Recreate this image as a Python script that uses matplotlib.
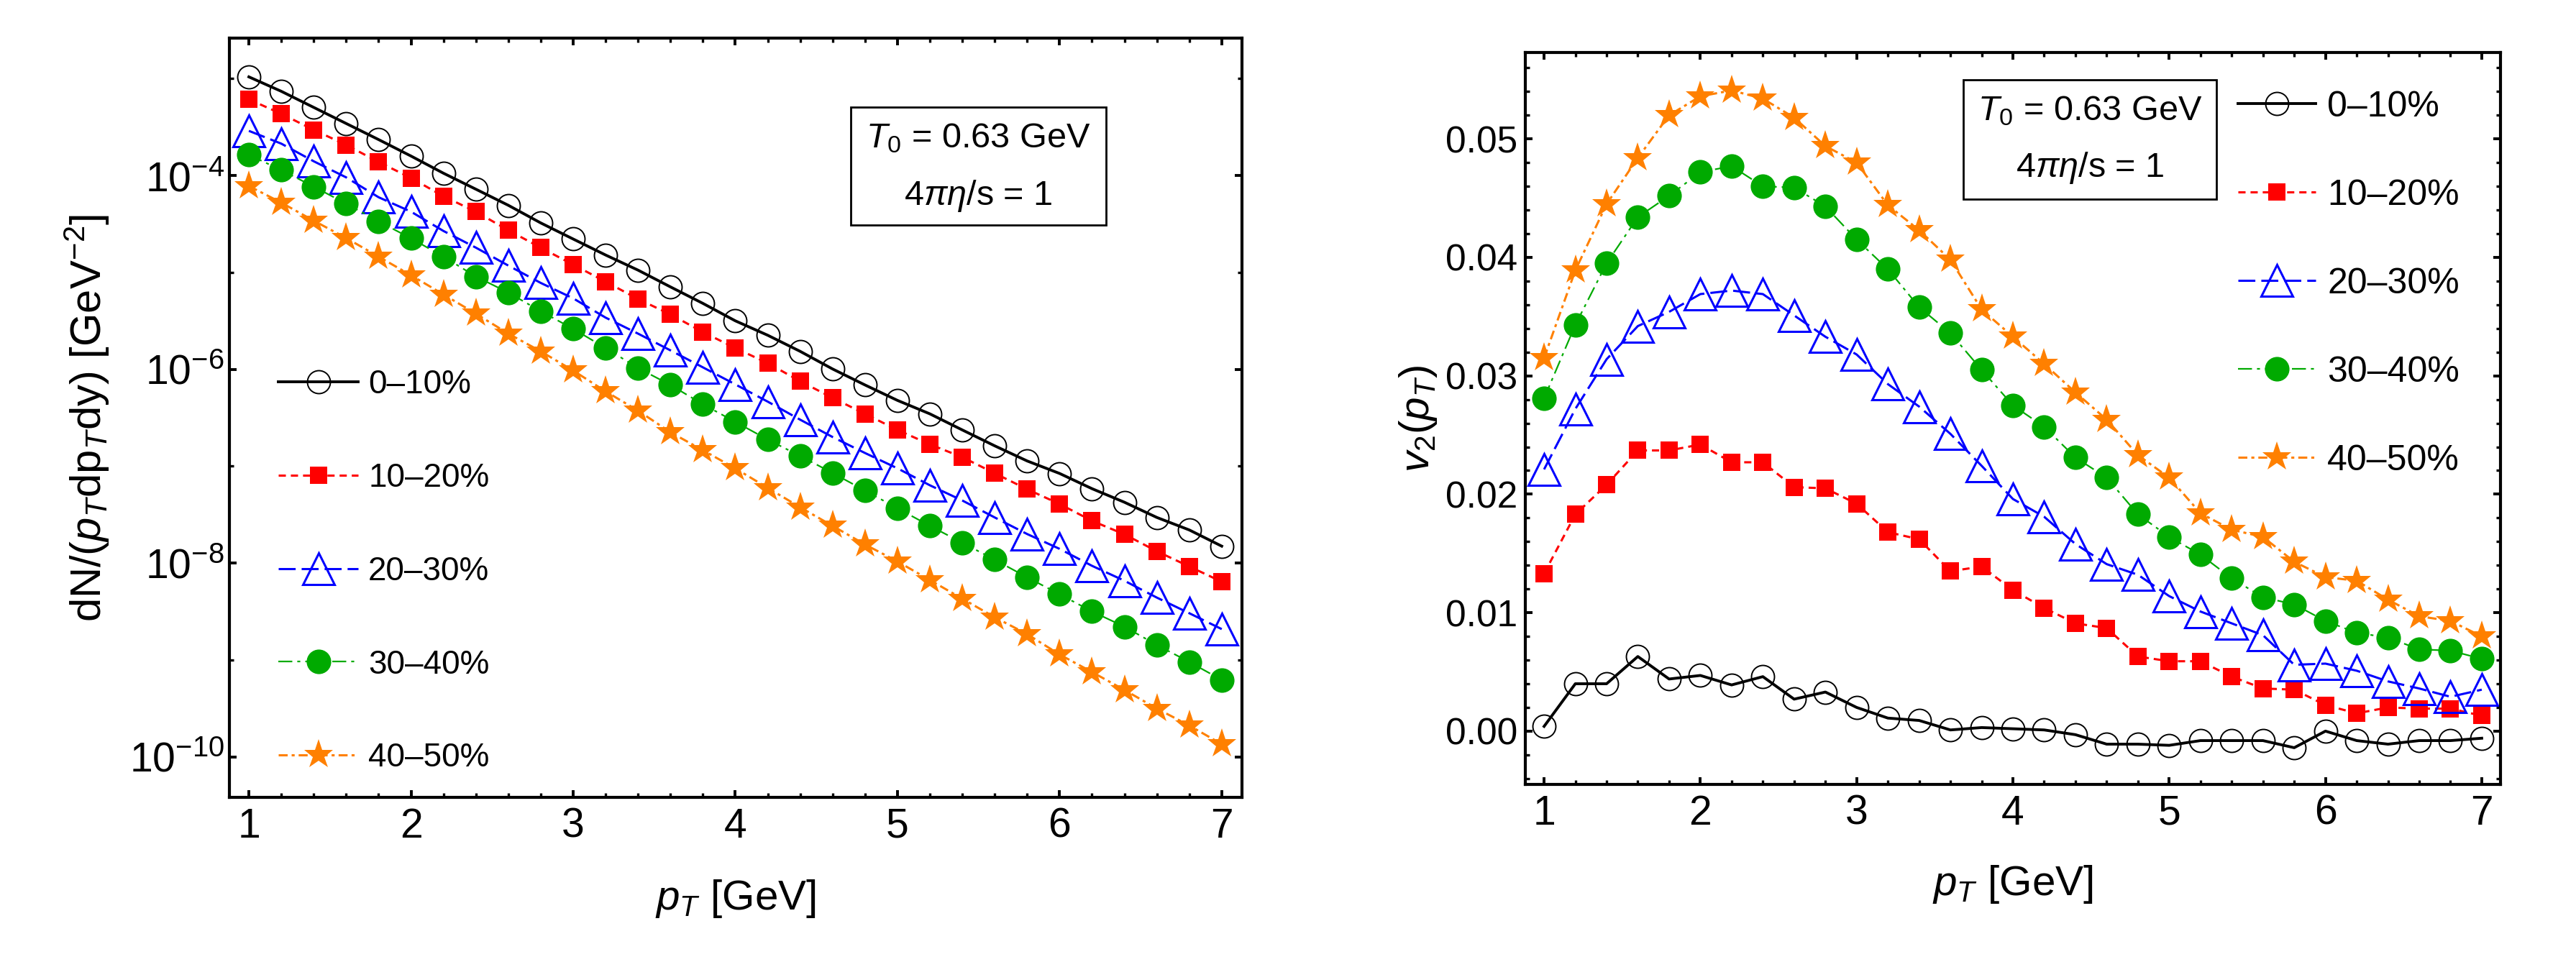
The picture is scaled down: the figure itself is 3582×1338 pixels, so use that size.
import numpy as np
import matplotlib
matplotlib.use('Agg')
import matplotlib.pyplot as plt
from matplotlib.ticker import FixedLocator, NullFormatter, MultipleLocator, FormatStrFormatter
from matplotlib.patches import Rectangle

plt.rcParams['font.family'] = ['Liberation Sans', 'DejaVu Sans']
plt.rcParams['mathtext.fontset'] = 'custom'
plt.rcParams['mathtext.rm'] = 'Liberation Sans'
plt.rcParams['mathtext.it'] = 'Liberation Sans:italic'
plt.rcParams['mathtext.bf'] = 'Liberation Sans:bold'
plt.rcParams['lines.scale_dashes'] = False

# datos
pt = [1.0, 1.2, 1.4, 1.6, 1.8, 2.0, 2.2, 2.4, 2.6, 2.8, 3.0, 3.2, 3.4, 3.6, 3.8, 4.0,
      4.2, 4.4, 4.6, 4.8, 5.0, 5.2, 5.4, 5.6, 5.8, 6.0, 6.2, 6.4, 6.6, 6.8, 7.0]
labels = ['0–10%', '10–20%', '20–30%', '30–40%', '40–50%']

log_0_10 = [-2.983, -3.132, -3.298, -3.464, -3.630, -3.800, -3.977, -4.142, -4.308, -4.490,
            -4.656, -4.821, -4.977, -5.150, -5.320, -5.500, -5.649, -5.815, -5.997, -6.162,
            -6.321, -6.460, -6.626, -6.790, -6.946, -7.075, -7.232, -7.372, -7.529, -7.658, -7.825]
log_10_20 = [-3.215, -3.364, -3.530, -3.685, -3.861, -4.026, -4.215, -4.374, -4.566, -4.745,
             -4.921, -5.096, -5.275, -5.434, -5.616, -5.781, -5.937, -6.123, -6.295, -6.460,
             -6.626, -6.775, -6.907, -7.073, -7.238, -7.390, -7.564, -7.703, -7.878, -8.035, -8.192]
log_20_30 = [-3.540, -3.672, -3.854, -4.020, -4.225, -4.374, -4.573, -4.745, -4.930, -5.109,
             -5.268, -5.467, -5.632, -5.805, -5.980, -6.156, -6.334, -6.520, -6.699, -6.864,
             -7.022, -7.197, -7.354, -7.529, -7.700, -7.853, -8.028, -8.182, -8.356, -8.517, -8.681]
log_30_40 = [-3.788, -3.944, -4.116, -4.291, -4.474, -4.649, -4.838, -5.043, -5.209, -5.401,
             -5.583, -5.781, -5.987, -6.162, -6.361, -6.543, -6.725, -6.895, -7.070, -7.252,
             -7.434, -7.616, -7.790, -7.965, -8.147, -8.321, -8.499, -8.656, -8.845, -9.020, -9.205]
log_40_50 = [-4.109, -4.281, -4.467, -4.646, -4.838, -5.030, -5.228, -5.427, -5.632, -5.815,
             -6.013, -6.228, -6.427, -6.650, -6.835, -7.023, -7.224, -7.424, -7.616, -7.808,
             -7.983, -8.175, -8.367, -8.559, -8.733, -8.943, -9.124, -9.309, -9.501, -9.676, -9.868]

# v2(pT), panel derecho
v2_0_10 = [0.0004, 0.0040, 0.0040, 0.0063, 0.0044, 0.0047, 0.0039, 0.0046, 0.0027, 0.0033,
           0.0020, 0.0011, 0.0009, 0.0001, 0.0003, 0.0002, 0.0001, -0.0003, -0.0011, -0.0011,
           -0.0012, -0.0008, -0.0008, -0.0008, -0.0014, 0.0000, -0.0008, -0.0011, -0.0008, -0.0008, -0.0006]
v2_10_20 = [0.0133, 0.0183, 0.0208, 0.0237, 0.0237, 0.0242, 0.0227, 0.0227, 0.0206, 0.0205,
            0.0192, 0.0168, 0.0162, 0.0135, 0.0139, 0.0119, 0.0104, 0.0091, 0.0087, 0.0063,
            0.0059, 0.0059, 0.0046, 0.0036, 0.0035, 0.0022, 0.0015, 0.0020, 0.0019, 0.0019, 0.0013]
v2_20_30 = [0.0221, 0.0272, 0.0314, 0.0342, 0.0354, 0.0369, 0.0372, 0.0369, 0.0351, 0.0333,
            0.0318, 0.0293, 0.0274, 0.0251, 0.0224, 0.0196, 0.0181, 0.0158, 0.0141, 0.0132,
            0.0114, 0.0101, 0.0091, 0.0081, 0.0056, 0.0057, 0.0051, 0.0042, 0.0036, 0.0029, 0.0035]
v2_30_40 = [0.0281, 0.0343, 0.0395, 0.0434, 0.0452, 0.0472, 0.0477, 0.0460, 0.0459, 0.0443,
            0.0415, 0.0390, 0.0358, 0.0336, 0.0305, 0.0275, 0.0257, 0.0231, 0.0214, 0.0183,
            0.0164, 0.0149, 0.0129, 0.0113, 0.0107, 0.0093, 0.0083, 0.0079, 0.0069, 0.0068, 0.0061]
v2_40_50 = [0.0315, 0.0389, 0.0445, 0.0484, 0.0520, 0.0536, 0.0541, 0.0534, 0.0518, 0.0494,
            0.0480, 0.0444, 0.0423, 0.0398, 0.0356, 0.0333, 0.0310, 0.0286, 0.0263, 0.0233,
            0.0214, 0.0184, 0.0170, 0.0164, 0.0143, 0.0130, 0.0127, 0.0111, 0.0097, 0.0093, 0.0080]

spectra = [log_0_10, log_10_20, log_20_30, log_30_40, log_40_50]
flows = [v2_0_10, v2_10_20, v2_20_30, v2_30_40, v2_40_50]

# estilos de cada centralidad
styles = [
    dict(color='black', ls='-', lw=1.4, marker='o', ms=11.5, mfc='none', mec='black', mew=0.7),
    dict(color='#ff0000', dashes=(3.6, 2.5), lw=1.1, marker='s', ms=8.3, mfc='#ff0000', mec='#ff0000', mew=0),
    dict(color='#0000ff', dashes=(8.5, 3.0), lw=1.1, marker='^', ms=16, mfc='none', mec='#0000ff', mew=1.1),
    dict(color='#00aa00', dashes=(7, 2.5, 1.5, 2.5), lw=0.8, marker='o', ms=12.3, mfc='#00aa00', mec='#00aa00', mew=0),
    dict(color='#ff8000', dashes=(4.5, 2, 1.5, 2), lw=1.1, marker='*', ms=15.5, mfc='#ff8000', mec='#ff8000', mew=0),
]

fig = plt.figure(figsize=(17.91, 6.69), dpi=200)
ax1 = fig.add_axes([0.08906, 0.17115, 0.39308, 0.78924])
ax2 = fig.add_axes([0.59213, 0.18460, 0.37856, 0.76084])

'''Panel izquierdo'''
for lg, st, lab in zip(spectra, styles, labels):
    ax1.plot(pt, 10.0 ** np.array(lg), label=lab, **st)
ax1.set_yscale('log')
ax1.set_xlim(0.88, 7.125)
ax1.set_ylim(10 ** -10.417, 10 ** -2.583)
ax1.yaxis.set_major_locator(FixedLocator([1e-10, 1e-8, 1e-6, 1e-4]))
ax1.yaxis.set_minor_locator(FixedLocator([1e-9, 1e-7, 1e-5, 1e-3]))
ax1.yaxis.set_minor_formatter(NullFormatter())
ax1.set_xlabel(r'$p_T$ [GeV]', fontsize=21, va='center')
ax1.xaxis.set_label_coords(0.5, -0.1335)
ax1.set_ylabel(r'dN/($p_T$dp$_T$dy) [GeV$^{-2}$]', fontsize=21.5, va='center')
ax1.yaxis.set_label_coords(-0.140, 0.5)
ax1.legend(loc='upper left', bbox_to_anchor=(0.048, 0.564), frameon=False, fontsize=16.5,
           handlelength=2.44, handletextpad=0.3, labelspacing=1.87, borderpad=0, borderaxespad=0)
ax1.add_patch(Rectangle((0.6136, 0.754), 0.2522, 0.155, transform=ax1.transAxes,
                        fill=False, lw=1.0, ec='black', zorder=5))
ax1.text(0.7397, 0.868, r'$T_0$ = 0.63 GeV', transform=ax1.transAxes, ha='center', va='center', fontsize=17.5)
ax1.text(0.7397, 0.792, r'4$\pi\eta$/s = 1', transform=ax1.transAxes, ha='center', va='center', fontsize=17.5)

'''Panel derecho'''
for v, st, lab in zip(flows, styles, labels):
    ax2.plot(pt, v, label=lab, **st)
ax2.set_xlim(0.88, 7.12)
ax2.set_ylim(-0.0045, 0.0573)
ax2.yaxis.set_major_locator(MultipleLocator(0.01))
ax2.yaxis.set_minor_locator(MultipleLocator(0.002))
ax2.yaxis.set_major_formatter(FormatStrFormatter('%.2f'))
ax2.set_xlabel(r'$p_T$ [GeV]', fontsize=21, va='center')
ax2.xaxis.set_label_coords(0.5, -0.1365)
ax2.set_ylabel(r'$v_2(p_T)$', fontsize=21, va='center')
ax2.yaxis.set_label_coords(-0.11, 0.5)
ax2.legend(loc='upper left', bbox_to_anchor=(0.731, 0.948), frameon=False, fontsize=18,
           handlelength=2.16, handletextpad=0.32, labelspacing=1.54, borderpad=0, borderaxespad=0)
ax2.add_patch(Rectangle((0.449, 0.80), 0.26, 0.163, transform=ax2.transAxes,
                        fill=False, lw=1.0, ec='black', zorder=5))
ax2.text(0.579, 0.920, r'$T_0$ = 0.63 GeV', transform=ax2.transAxes, ha='center', va='center', fontsize=17.5)
ax2.text(0.579, 0.842, r'4$\pi\eta$/s = 1', transform=ax2.transAxes, ha='center', va='center', fontsize=17.5)

for ax in (ax1, ax2):
    ax.xaxis.set_major_locator(MultipleLocator(1))
    ax.xaxis.set_minor_locator(MultipleLocator(0.2))
    ax.tick_params(which='both', direction='in', top=True, right=True, labelsize=20.5)
    ax.tick_params(which='major', length=3.6, width=1.4, pad=5)
    ax.tick_params(which='minor', length=2.0, width=1.2)
    for s in ax.spines.values():
        s.set_linewidth(1.5)
ax1.tick_params(axis='y', which='major', pad=2.5)
ax2.tick_params(axis='y', which='major', pad=4, labelsize=18.5)

fig.savefig('out.png', dpi=200)
